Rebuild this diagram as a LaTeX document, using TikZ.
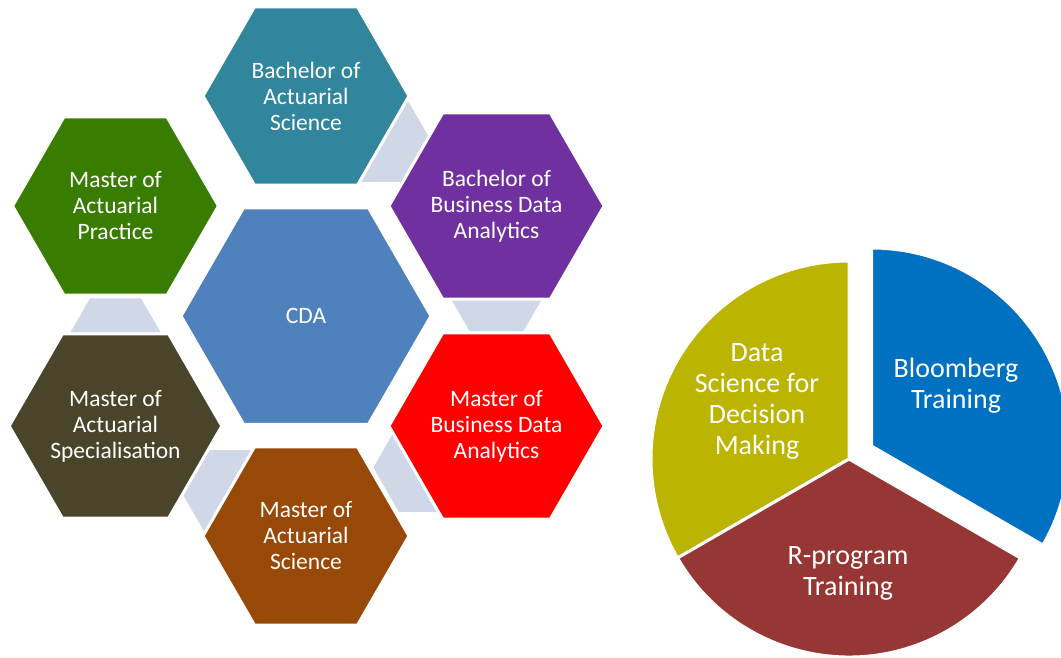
\documentclass[tikz,border=0pt]{standalone}
\usepackage{fontspec}
\setmainfont{Carlito}
\usetikzlibrary{shapes.geometric}
\definecolor{cteal}{RGB}{49,133,156}
\definecolor{cpurple}{RGB}{112,48,160}
\definecolor{cgreen}{RGB}{56,124,0}
\definecolor{ccda}{RGB}{79,129,189}
\definecolor{colive}{RGB}{74,69,42}
\definecolor{cred}{RGB}{255,0,0}
\definecolor{cbrown}{RGB}{152,72,7}
\definecolor{linkgrey}{RGB}{208,216,232}
\definecolor{pieblue}{RGB}{0,112,192}
\definecolor{pieyellow}{RGB}{187,180,0}
\definecolor{piemaroon}{RGB}{150,55,53}
\begin{document}
\begin{tikzpicture}[x=1pt,y=-1pt,
  hexbig/.style={regular polygon, regular polygon sides=6, minimum size=206pt,
    inner sep=0pt, draw=white, line width=3pt, text=white, align=center,
    font=\fontsize{23.5}{26}\selectfont},
  hexsmall/.style={regular polygon, regular polygon sides=6, minimum size=104pt,
    inner sep=0pt, fill=linkgrey, draw=white, line width=1pt},
  slice/.style={draw=white, line width=3pt, line join=miter},
  pielabel/.style={text=white, align=center, font=\fontsize{28}{31}\selectfont}]
\useasboundingbox (0,0) rectangle (1061,657);
\clip (0,0) rectangle (1061,657);
% connector hexagons (behind)
\node[hexsmall] (k1) at (377.9,137.5) {};
\node[hexsmall] (k2) at (496.5,289) {};
\node[hexsmall] (k3) at (424.6,467.5) {};
\node[hexsmall] (k4) at (234.1,494.5) {};
\node[hexsmall] (k5) at (115.5,343) {};
% outer hexagons
\node[hexbig, fill=cteal] (bas) at (306,96) {Bachelor of\\Actuarial\\Science};
\node[hexbig, fill=cpurple] (bbda) at (496.5,206) {Bachelor of\\Business Data\\Analytics};
\node[hexbig, fill=cred] (mbda) at (496.5,426) {Master of\\Business Data\\Analytics};
\node[hexbig, fill=cbrown] (mas) at (306,536) {Master of\\Actuarial\\Science};
\node[hexbig, fill=colive] (masp) at (115.5,426) {Master of\\Actuarial\\Specialisation};
\node[hexbig, fill=cgreen] (map) at (115.5,206) {Master of\\Actuarial\\Practice};
% centre
\node[hexbig, fill=ccda, minimum size=250pt] (cda) at (306,316) {CDA};
% pie
\path[slice, fill=pieyellow] (849,459) -- ++(-90:198) arc[start angle=-90, end angle=-210, radius=198] -- cycle;
\path[slice, fill=piemaroon] (849,459) -- ++(150:198) arc[start angle=150, end angle=30, radius=198] -- cycle;
\path[slice, fill=pieblue] (871.5,446) -- ++(-90:198) arc[start angle=-90, end angle=30, radius=198] -- cycle;
\node[pielabel] (bt) at (956,386) {Bloomberg\\Training};
\node[pielabel] (dsdm) at (757,401) {Data\\Science for\\Decision\\Making};
\node[pielabel] (rpt) at (848,573) {R-program\\Training};
\end{tikzpicture}
\end{document}
